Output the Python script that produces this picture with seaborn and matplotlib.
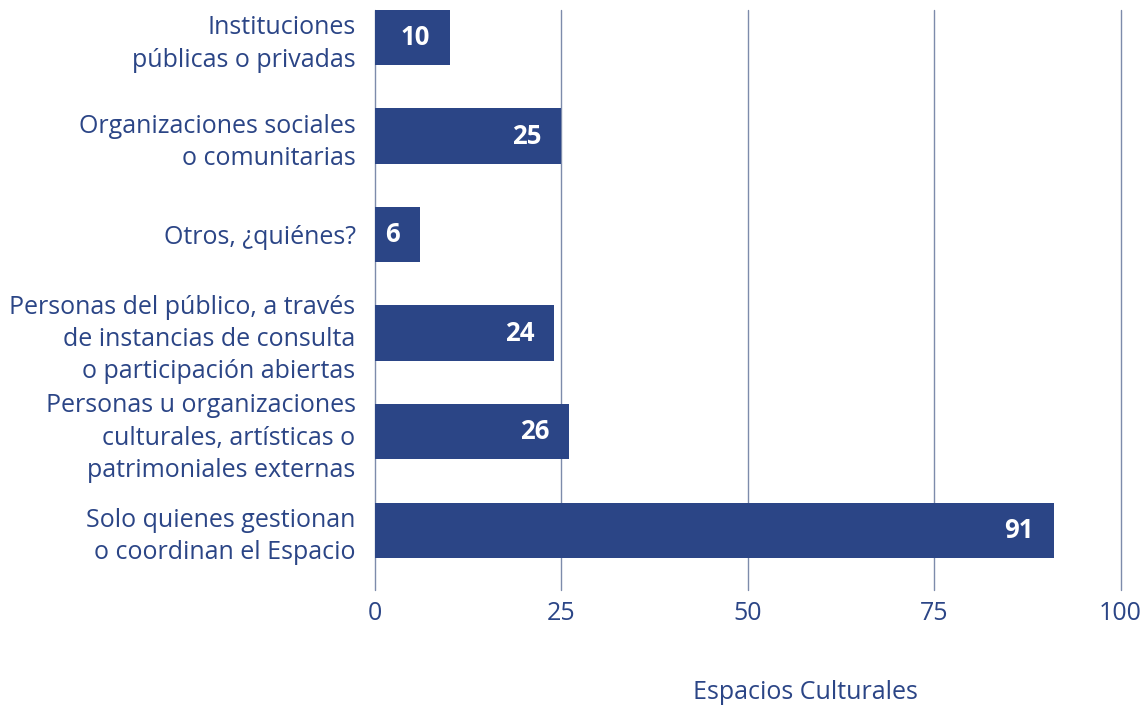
import matplotlib
matplotlib.use('Agg')
import matplotlib.pyplot as plt
import seaborn as sns
import pandas as pd

# Datos del gráfico
categorias = [
    "Instituciones\npúblicas o privadas",
    "Organizaciones sociales\no comunitarias",
    "Otros, ¿quiénes?",
    "Personas del público, a través\nde instancias de consulta\no participación abiertas",
    "Personas u organizaciones\nculturales, artísticas o\npatrimoniales externas",
    "Solo quienes gestionan\no coordinan el Espacio",
]
valores = [10, 25, 6, 24, 26, 91]
x_ticks = [0, 25, 50, 75, 100]

AZUL = "#2b4586"
GRID = "#7d8bab"

sns.set_theme(style="white")
plt.rcParams['font.family'] = ['Open Sans', 'DejaVu Sans']

df = pd.DataFrame({"categoria": categorias, "valor": valores})

fig = plt.figure(figsize=(11.47, 7.06), dpi=100)
ax = fig.add_axes([0.327, 0.164, 0.650, 0.822])

sns.barplot(data=df, x="valor", y="categoria", orient="h", color=AZUL,
            saturation=1, width=0.56, linewidth=0, ax=ax)

ax.set_xlim(0, 100)
ax.set_ylim(5.61, -0.28)
ax.set_xticks(x_ticks)
ax.xaxis.grid(True, color=GRID, linewidth=1)
for gl in ax.get_xgridlines():
    gl.set_clip_on(False)
ax.set_axisbelow(True)
for s in ax.spines.values():
    s.set_visible(False)

ax.tick_params(axis='x', length=0, pad=8, labelsize=18, labelcolor=AZUL)
ax.tick_params(axis='y', length=0, pad=14, labelsize=18, labelcolor=AZUL)
for lbl in ax.get_yticklabels():
    lbl.set_horizontalalignment('right')
    lbl.set_linespacing(1.38)

ax.set_ylabel("")
ax.set_xlabel("Espacios Culturales", fontsize=18, color=AZUL)
ax.xaxis.label.set_verticalalignment('center')
ax.xaxis.set_label_coords(0.577, -0.177)

# Etiquetas de valor dentro de las barras
for cont in ax.containers:
    textos = ax.bar_label(cont, labels=[str(v) for v in valores], padding=-14,
                          color="white", fontsize=18.5, fontweight="bold",
                          label_type="edge")
    for t in textos:
        t.set_horizontalalignment('right')

plt.savefig("out.png", dpi=100)
plt.close()
